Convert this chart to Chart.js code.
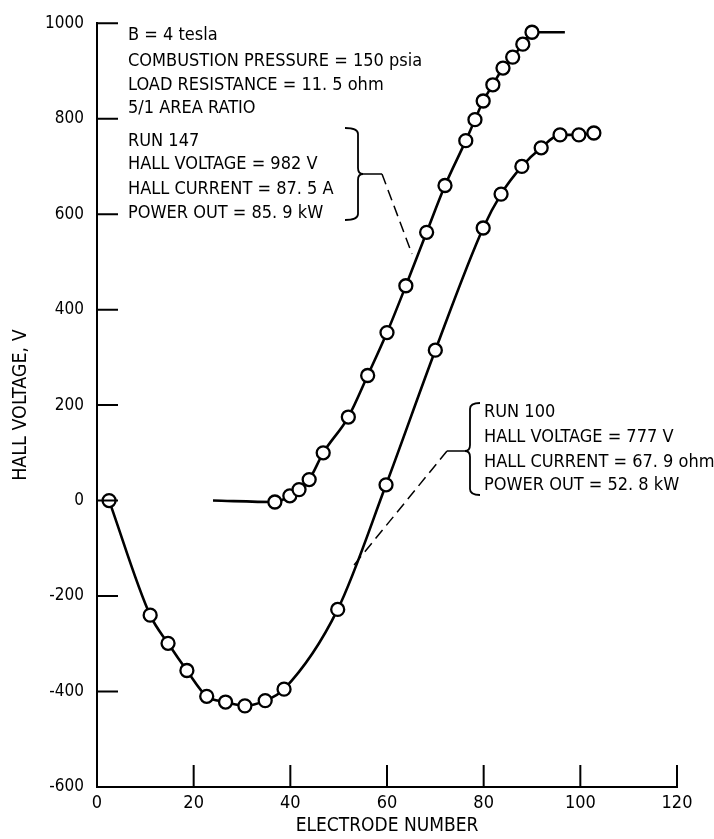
<!DOCTYPE html>
<html>
<head>
<meta charset="utf-8">
<script src="https://cdn.jsdelivr.net/npm/chart.js@4"></script>
<style>
  html, body { margin: 0; padding: 0; background: #fff; }
  #wrap { width: 714px; height: 839px; }
</style>
</head>
<body>
<div id="wrap"><canvas id="c" width="714" height="839"></canvas></div>
<script>
// ---- data ----
const run147X = [24, 36.8, 39.9, 41.8, 43.9, 46.8, 52, 56, 60, 63.9, 68.2, 72, 76.3, 78.2, 79.9, 81.9, 84, 86, 88.1, 90, 96.8];
const run147Y = [0, -3, 10, 23, 44, 100, 175, 262, 352, 450, 562, 660, 754, 798, 837, 871, 906, 929, 956, 981, 981];
const run147Marker = [false, true, true, true, true, true, true, true, true, true, true, true, true, true, true, true, true, true, true, true, false];

const run100X = [2.5, 11, 14.7, 18.6, 22.7, 26.6, 30.6, 34.8, 38.7, 49.8, 59.8, 70, 79.9, 83.6, 87.9, 91.9, 95.8, 99.7, 102.8];
const run100Y = [0, -240, -299, -356, -410, -422, -430, -419, -395, -228, 33, 315, 571, 642, 700, 739, 766, 766, 770];

const xTickValues = [0, 20, 40, 60, 80, 100, 120];
const xTickLabels = ['0', '20', '40', '60', '80', '100', '120'];
const yTickValues = [-600, -400, -200, 0, 200, 400, 600, 800, 1000];
const yTickLabels = ['-600', '-400', '-200', '0', '200', '400', '600', '800', '1000'];

const xTitle = 'ELECTRODE NUMBER';
const yTitle = 'HALL VOLTAGE, V';

const conditionsText = ['B = 4 tesla', 'COMBUSTION PRESSURE = 150 psia', 'LOAD RESISTANCE = 11. 5 ohm', '5/1 AREA RATIO'];
const run147Text = ['RUN 147', 'HALL VOLTAGE = 982 V', 'HALL CURRENT = 87. 5 A', 'POWER OUT = 85. 9 kW'];
const run100Text = ['RUN 100', 'HALL VOLTAGE = 777 V', 'HALL CURRENT = 67. 9 ohm', 'POWER OUT = 52. 8 kW'];

// ---- build ----
const FONT = "'Liberation Sans Narrow', 'DejaVu Sans Condensed', 'Roboto Condensed', sans-serif";
const toPts = (xs, ys) => xs.map((x, i) => ({x: x, y: ys[i]}));

const inwardTicks = {
  id: 'inwardTicks',
  afterDraw(chart) {
    const ctx = chart.ctx;
    const xs = chart.scales.x, ys = chart.scales.y;
    const ca = chart.chartArea;
    ctx.save();
    ctx.strokeStyle = '#000';
    ctx.lineWidth = 2;
    ctx.beginPath();
    yTickValues.forEach(v => {
      const py = ys.getPixelForValue(v);
      ctx.moveTo(ca.left, py); ctx.lineTo(ca.left + 21, py);
    });
    xTickValues.forEach(v => {
      const px = xs.getPixelForValue(v);
      ctx.moveTo(px, ca.bottom); ctx.lineTo(px, ca.bottom - 22);
    });
    ctx.stroke();
    ctx.restore();
  }
};

function brace(ctx, xEdge, xMid, xTip, y1, y2, ym) {
  const r = 6;
  ctx.beginPath();
  ctx.moveTo(xEdge, y1);
  ctx.quadraticCurveTo(xMid, y1, xMid, y1 + r);
  ctx.lineTo(xMid, ym - r);
  ctx.quadraticCurveTo(xMid, ym, xTip, ym);
  ctx.quadraticCurveTo(xMid, ym, xMid, ym + r);
  ctx.lineTo(xMid, y2 - r);
  ctx.quadraticCurveTo(xMid, y2, xEdge, y2);
  ctx.stroke();
}

const annotations = {
  id: 'annotations',
  afterDraw(chart) {
    const ctx = chart.ctx;
    ctx.save();
    ctx.fillStyle = '#000';
    ctx.strokeStyle = '#000';
    ctx.font = '18px ' + FONT;
    ctx.textBaseline = 'middle';
    ctx.textAlign = 'left';
    const block1Y = [35, 61, 85, 108];
    conditionsText.forEach((t, i) => ctx.fillText(t, 128, block1Y[i]));
    const block2Y = [141, 164, 189, 213];
    run147Text.forEach((t, i) => ctx.fillText(t, 128, block2Y[i]));
    const block3Y = [412, 437, 462, 485];
    run100Text.forEach((t, i) => ctx.fillText(t, 484, block3Y[i]));

    ctx.lineWidth = 1.8;
    brace(ctx, 345, 358, 363, 128, 220, 174);
    brace(ctx, 480, 470, 465, 403, 495, 451);

    ctx.lineWidth = 1.5;
    ctx.beginPath();
    ctx.moveTo(363, 174); ctx.lineTo(382, 174);
    ctx.moveTo(465, 451); ctx.lineTo(447, 451);
    ctx.stroke();
    ctx.setLineDash([11, 6]);
    ctx.beginPath();
    ctx.moveTo(382, 174); ctx.lineTo(412, 254);
    ctx.moveTo(447, 451); ctx.lineTo(354, 565);
    ctx.stroke();
    ctx.restore();
  }
};

new Chart(document.getElementById('c'), {
  type: 'line',
  data: {
    datasets: [
      {
        label: 'RUN 147',
        data: toPts(run147X, run147Y),
        borderColor: '#000',
        borderWidth: 2.6,
        backgroundColor: '#fff',
        pointBackgroundColor: '#fff',
        pointBorderColor: '#000',
        pointBorderWidth: 2.3,
        pointRadius: run147Marker.map(m => m ? 6.5 : 0),
        cubicInterpolationMode: 'monotone',
        fill: false
      },
      {
        label: 'RUN 100',
        data: toPts(run100X, run100Y),
        borderColor: '#000',
        borderWidth: 2.6,
        backgroundColor: '#fff',
        pointBackgroundColor: '#fff',
        pointBorderColor: '#000',
        pointBorderWidth: 2.3,
        pointRadius: 6.5,
        cubicInterpolationMode: 'monotone',
        fill: false
      }
    ]
  },
  options: {
    responsive: false,
    animation: false,
    devicePixelRatio: 1,
    layout: { padding: { top: 17, right: 37, left: 0, bottom: 0 } },
    plugins: { legend: { display: false }, tooltip: { enabled: false } },
    scales: {
      x: {
        type: 'linear',
        min: 0, max: 120,
        afterBuildTicks: s => { s.ticks = xTickValues.map(v => ({value: v})); },
        afterFit: s => { s.height = 52; },
        grid: { display: false, drawTicks: false },
        border: { display: true, color: '#000', width: 2 },
        ticks: {
          color: '#000', padding: 6,
          font: { family: FONT, size: 18 },
          callback: (v) => xTickLabels[xTickValues.indexOf(v)]
        },
        title: { display: true, text: xTitle, color: '#000', font: { family: FONT, size: 19 }, padding: { top: 0, bottom: 2 } }
      },
      y: {
        type: 'linear',
        min: -600, max: 1000,
        afterBuildTicks: s => { s.ticks = yTickValues.map(v => ({value: v})); },
        afterFit: s => { s.width = 97; },
        grid: { display: false, drawTicks: false },
        border: { display: true, color: '#000', width: 2 },
        ticks: {
          color: '#000', padding: 13,
          font: { family: FONT, size: 17 },
          callback: (v) => yTickLabels[yTickValues.indexOf(v)]
        },
        title: { display: true, text: yTitle, color: '#000', font: { family: FONT, size: 19.5 }, padding: { top: 9, bottom: 0 } }
      }
    }
  },
  plugins: [inwardTicks, annotations]
});
</script>
</body>
</html>
